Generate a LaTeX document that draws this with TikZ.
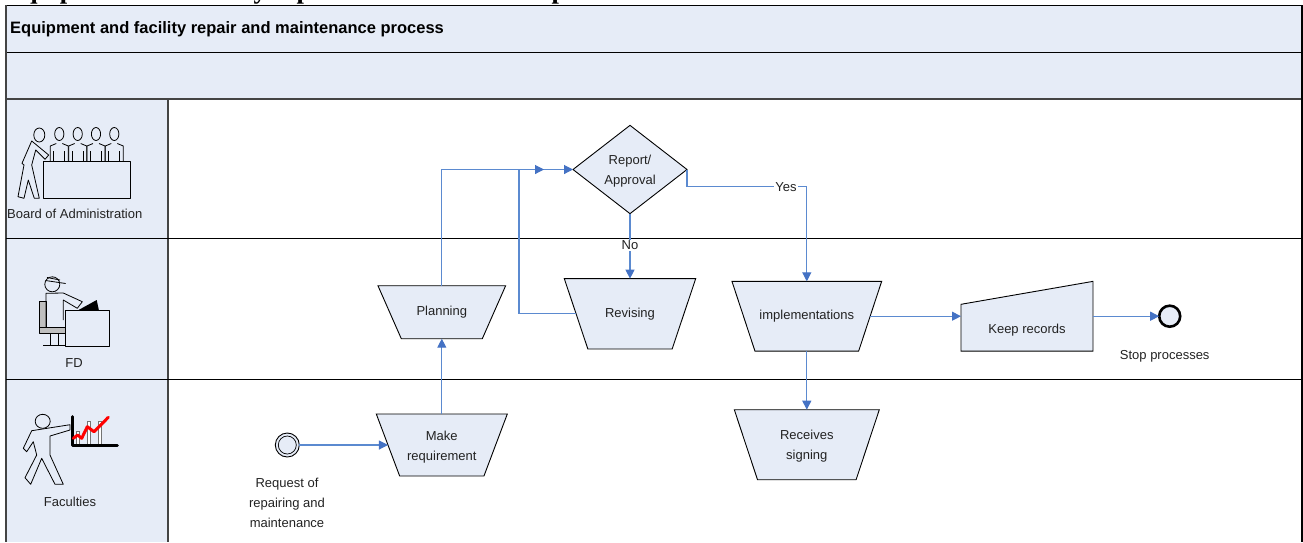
\documentclass[tikz,border=0pt]{standalone}
\usepackage{fontspec}
\setmainfont{Liberation Sans}
\newfontfamily\ttlfont{Liberation Serif}
\usetikzlibrary{arrows.meta,shapes.geometric}
\definecolor{lanefill}{HTML}{E6ECF7}
\definecolor{flowblue}{HTML}{5B8AD0}
\definecolor{tipblue}{HTML}{4472C4}
\definecolor{inkgrey}{HTML}{222222}
\definecolor{edgegrey}{HTML}{444444}
\newcommand\liftline{\rule{0pt}{13pt}}
\tikzset{
  lbl/.style={font=\fontsize{13}{20}\selectfont,text=inkgrey,align=center,inner sep=0pt,outer sep=0pt},
  band/.style={fill=lanefill,draw=none},
  lanerule/.style={draw=black,line width=1pt},
  laneedge/.style={draw=edgegrey,line width=1.6pt},
  flowshape/.style={draw=black,line width=.9pt,fill=lanefill,line join=miter},
  flow/.style={draw=flowblue,line width=1.1pt,-{Triangle[length=9pt,width=9pt,color=tipblue]}},
  tag/.style={lbl,fill=white,inner xsep=1pt,inner ysep=1pt},
  icon/.style={draw=black,line width=.8pt,line join=round},
}
% name, centre x, centre y, top width, bottom width, height, text
\newcommand\trapnode[7]{%
  \path[flowshape] (#2-#4/2,#3-#6/2) -- (#2+#4/2,#3-#6/2) -- (#2+#5/2,#3+#6/2) -- (#2-#5/2,#3+#6/2) -- cycle;
  \node[lbl,minimum width={(#4+#5)/2*1pt},minimum height={#6*1pt}] (#1) at (#2,#3) {#7};
}
\begin{document}
\begin{tikzpicture}[x=1pt,y=-1pt]
\useasboundingbox (0,0) rectangle (1303,542);
% bands and lanes
\path[band] (6,5.5) rectangle (1302,98.7);
\path[fill=lanefill] (6,98.7) rectangle (168,542);
\draw[lanerule] (6,5.7) -- (1302,5.7);
\draw[lanerule] (6,52.5) -- (1302,52.5);
\draw[laneedge] (6,99) -- (1302,99);
\draw[laneedge] (6,5) -- (6,542);
\draw[laneedge] (168,99) -- (168,542);
\draw[draw=black,line width=1.5pt] (1302,5) -- (1302,542);
\draw[lanerule] (6,238.5) -- (1302,238.5);
\draw[lanerule] (6,379.5) -- (1302,379.5);
% cropped heading and title
\node[anchor=base west,inner sep=0pt,font=\ttlfont\bfseries\fontsize{26.6}{30}\selectfont] (heading) at (5,-2) {Equipment and facility repair and maintenance process};
\node[anchor=west,inner sep=0pt,font=\bfseries\fontsize{16.5}{18}\selectfont] (title) at (10,29.5) {Equipment and facility repair and maintenance process};
% lane labels
\node[lbl] (board) at (74.7,214.3) {Board of Administration};
\node[lbl] (fd) at (74,363.3) {FD};
\node[lbl] (fac) at (70,501.7) {Faculties};
% board icon
\foreach \hx in {59.3,77.7,96,114.3}{
  \draw[icon] (\hx,134) ellipse (4.6 and 6.5);
  \draw[icon] (\hx-9,161.7) -- (\hx-9,146) -- (\hx-3,143.5) (\hx+3,143.5) -- (\hx+9,146) -- (\hx+9,161.7);
  \draw[icon] (\hx-5.5,161.7) -- (\hx-5.5,151) (\hx+5.5,161.7) -- (\hx+5.5,151);
}
\path[icon,fill=lanefill] (43.3,161.7) rectangle (130.7,198.3);
\draw[icon] (39.3,135) ellipse (5.5 and 7);
\path[icon,fill=lanefill] (31.7,141) -- (48.7,155) -- (45,159.3) -- (35.7,150) -- (31.7,165) -- (39.3,198.3) -- (34.3,198.3) -- (28.3,180) -- (24,198.3) -- (18,196.7) -- (24,165) -- (22,163.3) -- cycle;
% FD icon
\path[icon,fill=black!25] (39.3,301.7) rectangle (46,327.3);
\path[icon,fill=black!25] (39.3,327.3) rectangle (65.3,333.3);
\draw[icon] (52.3,284.3) circle (7.5);
\draw[icon] (45.5,280.5) -- (65.7,283.5) (47,277.5) -- (60,280);
\draw[icon] (46,327.3) -- (46,293.3) -- (63.3,293) -- (82.3,301.7) -- (77.3,308.3) -- (63.3,300) -- (63.3,320);
\draw[icon] (50.7,333.3) -- (50.7,345.3) (58.7,333.3) -- (58.7,345.3);
\draw[icon,line width=1.1pt] (43.3,345.3) -- (65.3,345.3);
\path[icon,fill=lanefill] (65.3,310.7) rectangle (109.7,346.7);
\path[fill=black] (77.3,310.7) -- (96.7,300) -- (99,310.7) -- cycle;
% faculties icon
\draw[icon] (42.7,421.3) ellipse (7.5 and 7);
\draw[icon] (31.7,430.7) -- (70,424.7) -- (70,430) -- (50,436) -- (50,455) -- (63.3,484.3) -- (55,484.3) -- (41.7,458.3) -- (30.7,484.3) -- (25,477.7) -- (36.7,455) -- (33.3,441.7) -- (26.7,451.7) -- (23.3,448.3) -- cycle;
\foreach \bx/\by in {78/431.7,89/421.7,100/421.7}{
  \path[fill=white,draw=black!55,line width=.7pt] (\bx-1.8,\by) rectangle (\bx+1.8,445);
}
\draw[line width=3pt,line cap=round,line join=round] (72.3,416.7) -- (72.3,445) -- (117.3,445);
\draw[red,line width=3pt,line cap=round,line join=round] (73.3,438.3) -- (77.7,435) -- (81.7,438.3) -- (87.3,426.7) -- (94,431.7) -- (108.3,417.3);
% flow nodes
\node[shape=diamond,flowshape,lbl,minimum width=114pt,minimum height=88.3pt,inner sep=0pt,outer sep=0pt] (approval) at (630,169.5) {\liftline Report/\\Approval};
\trapnode{planning}{441.8}{312.2}{127.7}{81}{53}{Planning}
\trapnode{revising}{630}{313.8}{131.4}{84.3}{70.3}{Revising}
\trapnode{impl}{806.8}{316.2}{149.7}{103.7}{69.7}{implementations}
\trapnode{receives}{806.8}{444.7}{145}{98.6}{70}{\liftline Receives\\signing}
\trapnode{make}{441.8}{445}{131}{84.3}{62}{\liftline Make\\requirement}
% keep records
\node[inner sep=0pt,outer sep=0pt,minimum width=132pt,minimum height=69.7pt] (keep) at (1027,316.2) {};
\coordinate (keepnotch) at (961,304.3);
\path[flowshape] (keep.south west) -- (keep.south east) -- (keep.north east) -- (keepnotch) -- cycle;
\node[lbl] (keeplabel) at (1027,330) {Keep records};
% events
\node[shape=circle,draw=black,line width=.9pt,fill=lanefill,minimum size=24pt,inner sep=0pt,outer sep=0pt] (start) at (287.3,445) {};
\node[shape=circle,draw=black,line width=.7pt,fill=lanefill,minimum size=18pt,inner sep=0pt] (startinner) at (287.3,445) {};
\node[shape=circle,draw=black,line width=2.6pt,fill=lanefill,minimum size=21pt,inner sep=0pt,outer sep=0pt] (stop) at (1169.7,316.2) {};
\node[lbl] (startlabel) at (287,503) {Request of\\repairing and\\maintenance};
\node[lbl] (stoplabel) at (1164.7,356.5) {Stop processes};
% connectors
\coordinate (merge) at (544,169.5);
\coordinate (revcorner) at (519,169.5);
\draw[flow] (start.east) -- (make.west);
\draw[flow] (make.north) -- (planning.south);
\draw[flow] (planning.north) |- (approval.west);
\draw[flow] (revising.west) -| (revcorner) -- (merge);
\draw[flow] (approval.east) -- ++(0,17.2) -| node[pos=0.413,tag] (yes) {Yes} (impl.north);
\draw[flow] (approval.south) -- node[pos=.49,tag] (no) {No} (revising.north);
\draw[flow] (impl.south) -- (receives.north);
\draw[flow] (impl.east) -- (keep.west);
\draw[flow] (keep.east) -- (stop.west);
\end{tikzpicture}
\end{document}
